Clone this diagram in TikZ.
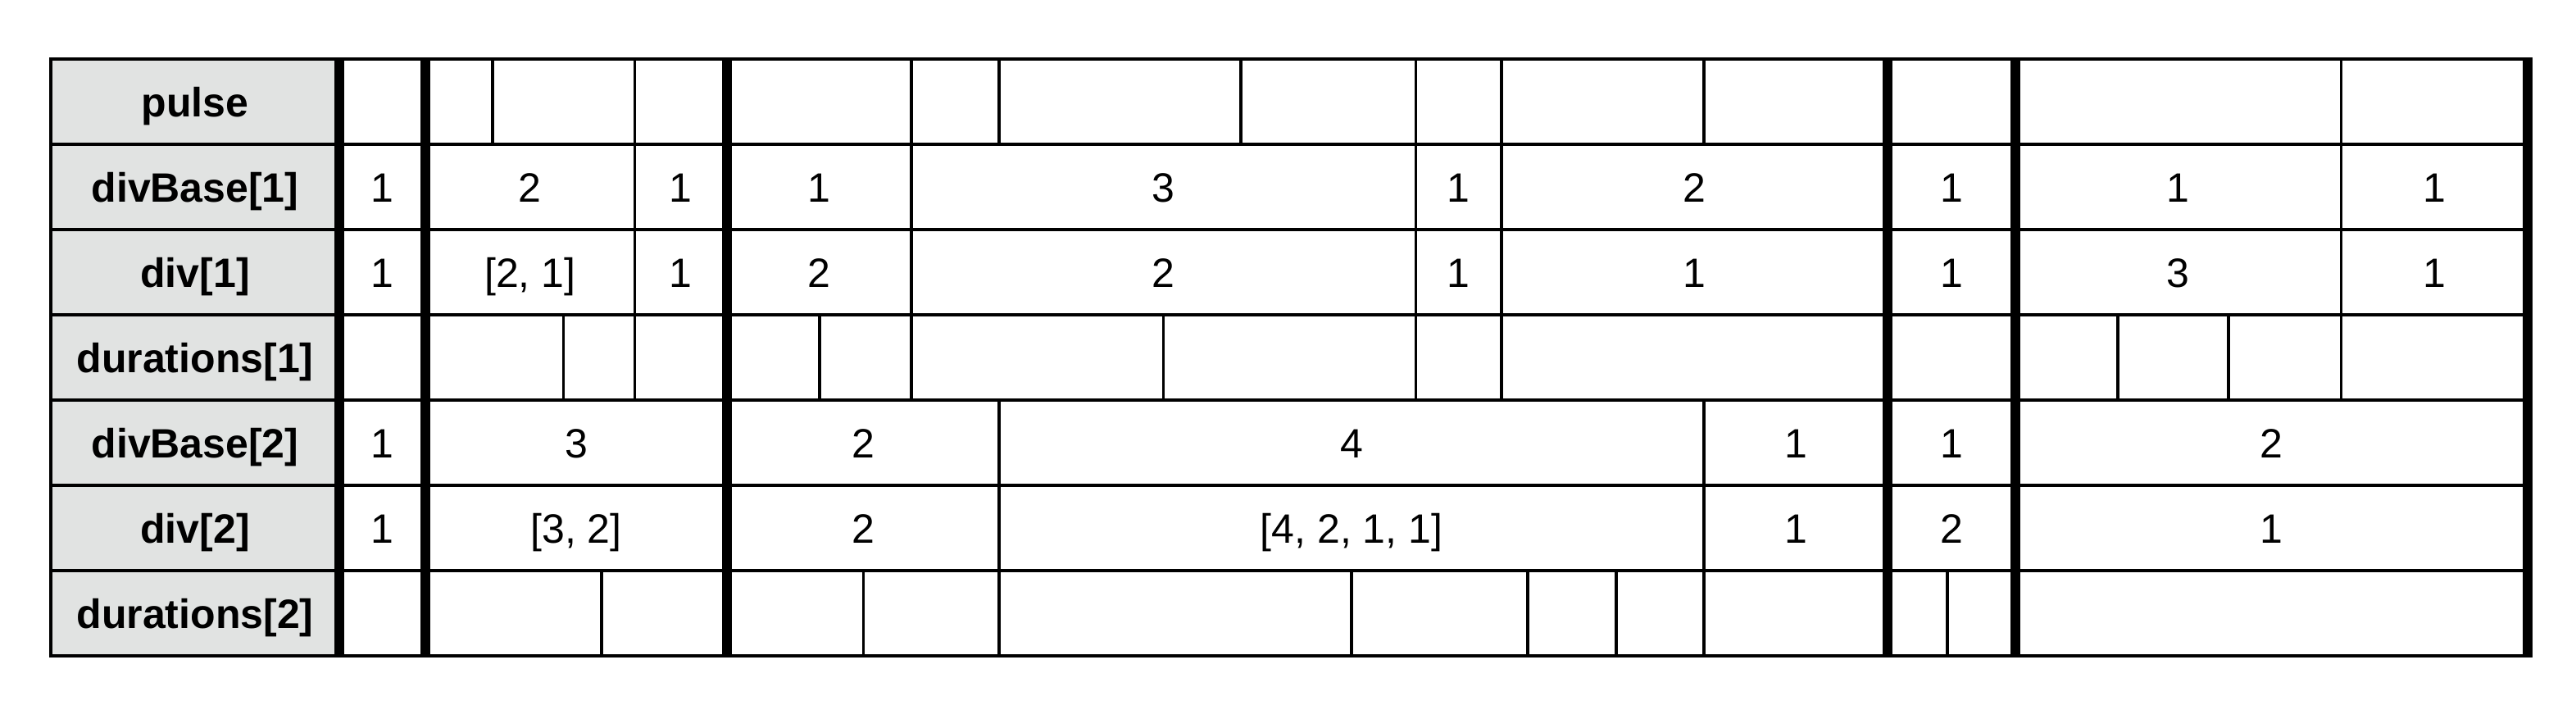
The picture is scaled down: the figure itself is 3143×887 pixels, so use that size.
\documentclass[tikz,border=0pt]{standalone}
\usepackage{fontspec}
\setmainfont{Liberation Sans}
\definecolor{labelgray}{RGB}{225,227,226}
\begin{document}
\begin{tikzpicture}[x=0.24pt,y=-0.24pt,
  thinline/.style={line width=0.85pt},
  hline/.style={line width=0.95pt},
  thickline/.style={line width=2.9pt},
  lab/.style={font=\bfseries\fontsize{12}{14}\selectfont, anchor=base, inner sep=0pt},
  val/.style={font=\fontsize{12}{14}\selectfont, anchor=base, inner sep=0pt}]
\useasboundingbox (0,0) rectangle (3143,887);
\fill[labelgray] (62,72) rectangle (414,800);
% horizontal rules
\foreach \y in {176,280,384,488,592,696} \draw[hline] (62,\y) -- (3084,\y);
% thin vertical rules, row by row
\foreach \x in {601,774.5,1112,1219,1514,1727.5,1832,2079,2856.5} \draw[thinline] (\x,72) -- (\x,176);
\foreach \x in {774.5,1112,1727.5,1832,2856.5} \draw[thinline] (\x,176) -- (\x,280);
\foreach \x in {774.5,1112,1727.5,1832,2856.5} \draw[thinline] (\x,280) -- (\x,384);
\foreach \x in {687.5,774.5,1000,1112,1419.5,1727.5,1832,2584,2719,2856.5} \draw[thinline] (\x,384) -- (\x,488);
\foreach \x in {1219,2079} \draw[thinline] (\x,488) -- (\x,592);
\foreach \x in {1219,2079} \draw[thinline] (\x,592) -- (\x,696);
\foreach \x in {734,1053.5,1219,1649,1864,1972,2079,2376} \draw[thinline] (\x,696) -- (\x,800);
% outer frame
\draw[hline] (62,72) rectangle (3084,800);
% thick bar lines
\foreach \x in {414,519,887,2303,2459,3084} \draw[thickline] (\x,70) -- (\x,802);
% row labels
\node[lab] (lpulse) at (238,142) {pulse};
\node[lab] (ldb1) at (238,246) {divBase[1]};
\node[lab] (ldv1) at (238,350) {div[1]};
\node[lab] (ldu1) at (238,454) {durations[1]};
\node[lab] (ldb2) at (238,558) {divBase[2]};
\node[lab] (ldv2) at (238,662) {div[2]};
\node[lab] (ldu2) at (238,766) {durations[2]};
% divBase[1]
\foreach \x/\t [count=\i] in {466.5/1,646.75/2,830.75/1,999.5/1,1419.75/3,1779.75/1,2067.5/2,2381/1,2657.75/1,2970.25/1}
  \node[val] (dbA\i) at (\x,246) {\t};
% div[1]
\foreach \x/\t [count=\i] in {466.5/1,646.75/{[2, 1]},830.75/1,999.5/2,1419.75/2,1779.75/1,2067.5/1,2381/1,2657.75/3,2970.25/1}
  \node[val] (dvA\i) at (\x,350) {\t};
% divBase[2]
\foreach \x/\t [count=\i] in {466.5/1,703/3,1053/2,1649/4,2191/1,2381/1,2771.5/2}
  \node[val] (dbB\i) at (\x,558) {\t};
% div[2]
\foreach \x/\t [count=\i] in {466.5/1,703/{[3, 2]},1053/2,1649/{[4, 2, 1, 1]},2191/1,2381/2,2771.5/1}
  \node[val] (dvB\i) at (\x,662) {\t};
\end{tikzpicture}
\end{document}
